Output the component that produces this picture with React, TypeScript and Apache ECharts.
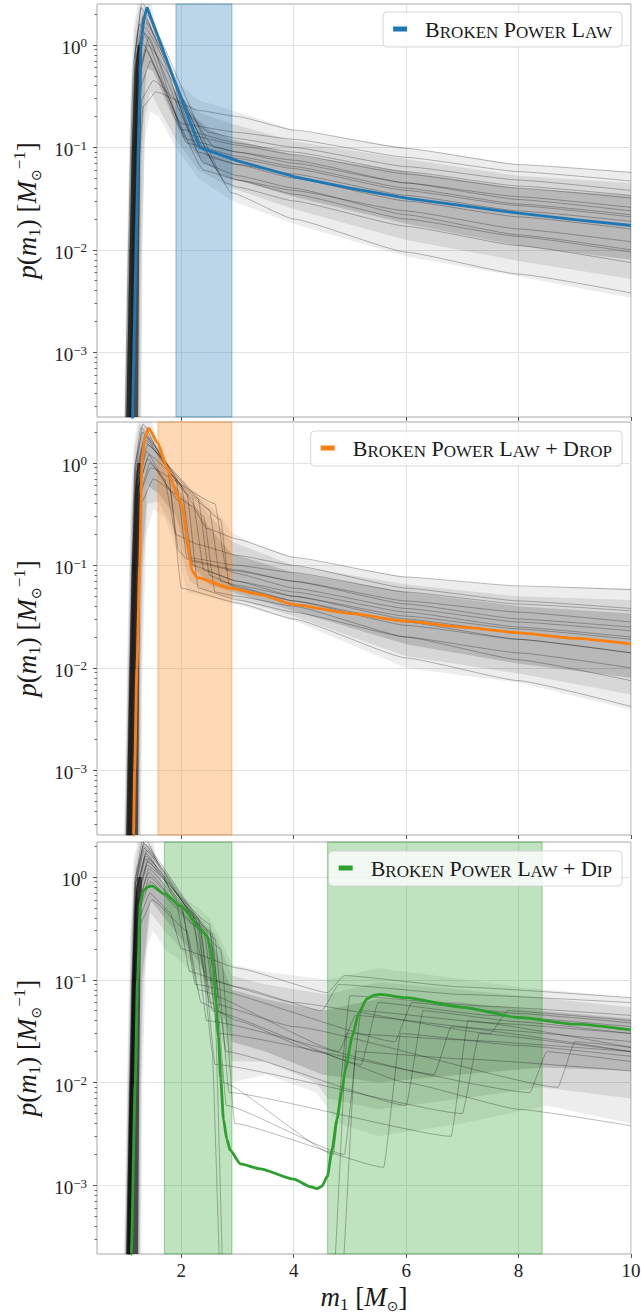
import React, { useEffect, useRef } from 'react';
import * as echarts from 'echarts';

const FONT = "'Liberation Serif', 'DejaVu Serif', serif";
const BLUE = '#1f77b4';
const ORANGE = '#ff7f0e';
const GREEN = '#2ca02c';

// ---------- axes / ticks ----------
const xTickValues = [2, 4, 6, 8, 10];
const yTickValues = [0.001, 0.01, 0.1, 1];
const xRange = [0.5, 10];
const yRangeTop = [0.000234, 2.51];
const yRangeMid = [0.000234, 2.51];
const yRangeBot = [0.000215, 2.19];

// ---------- shaded intervals ----------
const bplBands = [[1.905, 2.9]];
const dropBands = [[1.585, 2.9]];
const dipBands = [[1.7, 2.9], [4.603, 8.418]];

// ---------- median curves ----------
const bplMain = [[1.10, 1e-5], [1.133, 2.35e-4], [1.194, 0.01], [1.235, 0.1], [1.283, 1.0], [1.33, 1.75], [1.39, 2.33], [2.326, 0.1], [3, 0.074], [4, 0.052], [5, 0.040], [6, 0.032], [7, 0.027], [8, 0.0228], [9, 0.0197], [10, 0.0173]];
const dropMain = [[1.10, 1e-5], [1.15, 2.35e-4], [1.17, 1e-3], [1.21, 0.01], [1.26, 0.1], [1.30, 1.0], [1.35, 1.75], [1.418, 2.19], [1.58, 1.57], [1.75, 0.89], [1.86, 0.6], [1.95, 0.46], [2.0, 0.4], [2.04, 0.33], [2.09, 0.2], [2.14, 0.125], [2.19, 0.089], [2.28, 0.076], [2.87, 0.06], [3.4, 0.052], [4, 0.0415], [5, 0.034], [6, 0.0286], [7, 0.025], [8, 0.022], [9, 0.0194], [10, 0.0171]];
const dipMain = [[1.08, 1e-5], [1.11, 2.15e-4], [1.18, 0.01], [1.22, 0.1], [1.27, 0.56], [1.32, 0.73], [1.40, 0.8], [1.48, 0.82], [1.7, 0.68], [2.0, 0.52], [2.34, 0.31], [2.46, 0.267], [2.52, 0.2], [2.57, 0.127], [2.62, 0.06], [2.66, 0.028], [2.70, 0.011], [2.75, 0.0044], [2.81, 0.0028], [2.87, 0.0022], [3.05, 0.00162], [3.4, 0.00145], [4.0, 0.00115], [4.3, 0.00097], [4.41, 0.00093], [4.5, 0.00098], [4.6, 0.00123], [4.68, 0.0022], [4.77, 0.0044], [4.85, 0.008], [4.92, 0.0135], [5.04, 0.028], [5.16, 0.048], [5.30, 0.065], [5.42, 0.0705], [5.54, 0.072], [6.0, 0.067], [7, 0.054], [8, 0.043], [9, 0.037], [10, 0.0325]];

// ---------- density of the posterior draws (outline of the grey cloud) ----------
const bplCloudOuter = [[0.98, 2.34e-4], [1.03, 0.01], [1.09, 0.3], [1.15, 1.5], [1.22, 2.51], [1.47, 2.51], [1.6, 1.1], [1.9, 0.45], [2.3, 0.29], [2.9, 0.23], [4, 0.148], [6, 0.099], [8, 0.068], [10, 0.058], [10, 0.0034], [8, 0.0055], [6, 0.0086], [4, 0.018], [2.9, 0.03], [2.3, 0.05], [1.9, 0.1], [1.6, 0.2], [1.45, 0.22], [1.35, 0.12], [1.31, 0.01], [1.29, 2.34e-4]];
const bplCloudMid = [[0.99, 2.34e-4], [1.045, 0.01], [1.105, 0.3], [1.17, 1.4], [1.25, 2.4], [1.45, 2.2], [1.6, 0.9], [1.9, 0.35], [2.3, 0.22], [2.9, 0.17], [4, 0.115], [6, 0.077], [8, 0.053], [10, 0.045], [10, 0.0052], [8, 0.0078], [6, 0.0125], [4, 0.025], [2.9, 0.04], [2.3, 0.06], [1.9, 0.12], [1.6, 0.24], [1.45, 0.35], [1.36, 0.2], [1.3, 0.01], [1.28, 2.34e-4]];
const bplCloudInner = [[1.0, 2.34e-4], [1.06, 0.01], [1.12, 0.3], [1.19, 1.2], [1.32, 2.1], [1.45, 1.6], [1.7, 0.6], [2.0, 0.26], [2.5, 0.15], [2.9, 0.12], [4, 0.085], [6, 0.058], [8, 0.04], [10, 0.034], [10, 0.008], [8, 0.011], [6, 0.018], [4, 0.033], [2.9, 0.05], [2.4, 0.07], [2.0, 0.13], [1.7, 0.3], [1.5, 0.55], [1.38, 0.6], [1.3, 0.1], [1.27, 0.01], [1.25, 2.34e-4]];
const bplRiseCore = [[1.02, 2.34e-4], [1.08, 0.01], [1.12, 0.1], [1.17, 0.5], [1.22, 1.0], [1.30, 1.0], [1.27, 0.1], [1.25, 0.01], [1.23, 2.34e-4]];

const dropCloudOuter = [[0.98, 2.34e-4], [1.03, 0.01], [1.09, 0.3], [1.15, 1.5], [1.22, 2.51], [1.48, 2.51], [1.6, 1.4], [1.8, 0.9], [2.0, 0.7], [2.2, 0.55], [2.45, 0.42], [2.7, 0.3], [2.9, 0.21], [3.2, 0.17], [4, 0.12], [6, 0.077], [8, 0.062], [10, 0.06], [10, 0.0039], [8, 0.0072], [6, 0.01], [4, 0.029], [2.9, 0.043], [2.4, 0.05], [2.1, 0.055], [1.9, 0.15], [1.7, 0.3], [1.5, 0.35], [1.38, 0.2], [1.31, 0.01], [1.29, 2.34e-4]];
const dropCloudMid = [[0.99, 2.34e-4], [1.045, 0.01], [1.105, 0.3], [1.17, 1.4], [1.25, 2.4], [1.46, 2.2], [1.65, 1.1], [2.0, 0.6], [2.3, 0.42], [2.6, 0.27], [2.9, 0.17], [4, 0.1], [6, 0.065], [8, 0.05], [10, 0.046], [10, 0.0055], [8, 0.0088], [6, 0.013], [4, 0.032], [2.9, 0.048], [2.4, 0.057], [2.15, 0.07], [1.9, 0.2], [1.6, 0.42], [1.4, 0.4], [1.33, 0.1], [1.29, 0.01], [1.27, 2.34e-4]];
const dropCloudInner = [[1.0, 2.34e-4], [1.06, 0.01], [1.12, 0.3], [1.19, 1.2], [1.32, 2.1], [1.45, 1.7], [1.7, 0.9], [2.0, 0.5], [2.3, 0.33], [2.6, 0.2], [2.9, 0.13], [4, 0.085], [6, 0.055], [8, 0.04], [10, 0.034], [10, 0.008], [8, 0.011], [6, 0.017], [4, 0.036], [2.9, 0.055], [2.5, 0.065], [2.2, 0.1], [1.9, 0.3], [1.6, 0.5], [1.4, 0.6], [1.3, 0.1], [1.27, 0.01], [1.25, 2.34e-4]];
const dropRiseCore = [[1.02, 2.34e-4], [1.08, 0.01], [1.12, 0.1], [1.17, 0.5], [1.22, 1.0], [1.30, 1.0], [1.27, 0.1], [1.25, 0.01], [1.23, 2.34e-4]];

const dipCloudOuter = [[0.98, 2.15e-4], [1.03, 0.01], [1.09, 0.3], [1.15, 1.5], [1.22, 2.19], [1.5, 2.19], [1.6, 1.3], [1.8, 0.8], [2.0, 0.65], [2.3, 0.5], [2.5, 0.4], [2.7, 0.25], [2.9, 0.14], [3.5, 0.12], [4.6, 0.1], [5.5, 0.13], [6.5, 0.11], [8, 0.085], [10, 0.067], [10, 0.004], [8.5, 0.006], [7, 0.004], [5.5, 0.003], [4.8, 0.004], [4.4, 0.008], [3.5, 0.012], [2.9, 0.01], [2.6, 0.05], [2.3, 0.1], [2.0, 0.15], [1.7, 0.2], [1.5, 0.3], [1.38, 0.2], [1.31, 0.01], [1.29, 2.15e-4]];
const dipCloudMid = [[0.99, 2.15e-4], [1.045, 0.01], [1.105, 0.3], [1.17, 1.4], [1.25, 2.19], [1.48, 2.0], [1.65, 1.0], [2.0, 0.57], [2.3, 0.42], [2.6, 0.28], [2.9, 0.11], [3.5, 0.09], [4.6, 0.072], [5.5, 0.095], [7, 0.08], [8.4, 0.067], [10, 0.054], [10, 0.007], [8.4, 0.009], [7, 0.007], [5.5, 0.0055], [4.6, 0.007], [4.4, 0.01], [3.5, 0.016], [2.9, 0.016], [2.6, 0.065], [2.3, 0.12], [2.0, 0.2], [1.7, 0.3], [1.45, 0.45], [1.33, 0.1], [1.29, 0.01], [1.27, 2.15e-4]];
const dipCloudInner = [[1.0, 2.15e-4], [1.06, 0.01], [1.12, 0.3], [1.19, 1.2], [1.33, 2.0], [1.5, 1.5], [1.7, 0.8], [2.0, 0.5], [2.3, 0.35], [2.6, 0.2], [2.9, 0.08], [3.5, 0.065], [4.5, 0.05], [5.5, 0.065], [7, 0.06], [8.4, 0.05], [10, 0.042], [10, 0.013], [8.4, 0.014], [7, 0.012], [5.5, 0.01], [4.5, 0.012], [3.5, 0.02], [2.9, 0.025], [2.6, 0.08], [2.3, 0.15], [2.0, 0.25], [1.7, 0.4], [1.45, 0.6], [1.3, 0.1], [1.27, 0.01], [1.25, 2.15e-4]];
const dipRiseCore = [[1.02, 2.15e-4], [1.08, 0.01], [1.12, 0.1], [1.17, 0.5], [1.22, 1.0], [1.30, 1.0], [1.27, 0.1], [1.25, 0.01], [1.23, 2.15e-4]];

// ---------- posterior draws ----------
const bplSamples = [
  [[0.97, 1e-5], [1.06, 0.01], [1.10, 0.1], [1.15, 0.7], [1.25, 1.6], [2.1, 0.12], [3, 0.09], [4, 0.07], [6, 0.045], [8, 0.033], [10, 0.026]],
  [[1.00, 1e-5], [1.09, 0.01], [1.13, 0.1], [1.18, 0.9], [1.30, 2.6], [2.3, 0.09], [3, 0.068], [4, 0.05], [6, 0.03], [8, 0.021], [10, 0.016]],
  [[1.02, 1e-5], [1.11, 0.01], [1.15, 0.1], [1.20, 0.8], [1.32, 1.9], [2.5, 0.08], [3, 0.068], [4, 0.055], [6, 0.034], [8, 0.024], [10, 0.019]],
  [[1.04, 1e-5], [1.13, 0.01], [1.17, 0.1], [1.22, 0.6], [1.35, 1.3], [2.2, 0.13], [3, 0.105], [4, 0.085], [6, 0.055], [8, 0.04], [10, 0.032]],
  [[1.05, 1e-5], [1.14, 0.01], [1.18, 0.1], [1.23, 0.9], [1.38, 2.2], [2.4, 0.07], [3, 0.053], [4, 0.04], [6, 0.022], [8, 0.014], [10, 0.01]],
  [[1.07, 1e-5], [1.16, 0.01], [1.20, 0.1], [1.25, 0.5], [1.40, 1.0], [2.6, 0.1], [3, 0.09], [4, 0.075], [6, 0.045], [8, 0.031], [10, 0.024]],
  [[1.09, 1e-5], [1.18, 0.01], [1.22, 0.1], [1.28, 0.4], [1.45, 0.7], [2.0, 0.17], [3, 0.14], [4, 0.12], [6, 0.08], [8, 0.058], [10, 0.047]],
  [[1.11, 1e-5], [1.20, 0.01], [1.25, 0.08], [1.32, 0.25], [1.55, 0.35], [2.3, 0.23], [3, 0.2], [4, 0.148], [6, 0.098], [8, 0.068], [10, 0.057]],
  [[1.03, 1e-5], [1.12, 0.01], [1.16, 0.1], [1.21, 0.7], [1.33, 1.5], [2.8, 0.045], [3, 0.041], [4, 0.03], [6, 0.017], [8, 0.011], [10, 0.0075]],
  [[1.06, 1e-5], [1.15, 0.01], [1.19, 0.1], [1.24, 0.8], [1.36, 2.0], [2.9, 0.036], [4, 0.02], [6, 0.0095], [8, 0.0058], [10, 0.0038]],
  [[1.01, 1e-5], [1.10, 0.01], [1.14, 0.1], [1.19, 0.9], [1.28, 2.3], [2.3, 0.1], [3, 0.078], [4, 0.062], [6, 0.038], [8, 0.027], [10, 0.021]],
  [[1.08, 1e-5], [1.17, 0.01], [1.21, 0.1], [1.26, 0.6], [1.42, 1.2], [2.1, 0.11], [3, 0.082], [4, 0.065], [6, 0.04], [8, 0.028], [10, 0.022]],
  [[0.99, 1e-5], [1.08, 0.01], [1.12, 0.1], [1.17, 0.6], [1.27, 1.1], [2.4, 0.06], [3, 0.048], [4, 0.038], [6, 0.024], [8, 0.016], [10, 0.012]],
  [[1.10, 1e-5], [1.19, 0.01], [1.24, 0.1], [1.30, 0.3], [1.5, 0.45], [2.5, 0.14], [3, 0.122], [4, 0.1], [6, 0.065], [8, 0.048], [10, 0.038]],
  [[1.04, 1e-5], [1.13, 0.01], [1.17, 0.1], [1.22, 0.8], [1.34, 1.7], [2.7, 0.055], [3, 0.048], [4, 0.035], [6, 0.02], [8, 0.0135], [10, 0.0095]],
  [[1.06, 1e-5], [1.15, 0.01], [1.19, 0.1], [1.24, 0.5], [1.37, 0.9], [2.0, 0.15], [3, 0.11], [4, 0.09], [6, 0.058], [8, 0.042], [10, 0.034]],
];

const dropSamples = [
  [[1.00, 1e-5], [1.09, 0.01], [1.13, 0.1], [1.18, 1.0], [1.32, 2.4], [1.75, 0.9], [1.95, 0.14], [2.1, 0.115], [3, 0.09], [4, 0.07], [6, 0.045], [8, 0.035], [10, 0.028]],
  [[1.02, 1e-5], [1.11, 0.01], [1.15, 0.1], [1.20, 0.9], [1.36, 1.9], [2.0, 0.6], [2.2, 0.1], [3, 0.07], [4, 0.05], [6, 0.03], [8, 0.022], [10, 0.017]],
  [[1.04, 1e-5], [1.13, 0.01], [1.17, 0.1], [1.22, 0.7], [1.40, 1.5], [2.3, 0.45], [2.5, 0.08], [3, 0.062], [4, 0.045], [6, 0.026], [8, 0.019], [10, 0.014]],
  [[1.06, 1e-5], [1.15, 0.01], [1.19, 0.1], [1.24, 0.6], [1.42, 1.2], [2.5, 0.35], [2.7, 0.07], [3, 0.064], [4, 0.05], [6, 0.032], [8, 0.024], [10, 0.019]],
  [[1.01, 1e-5], [1.10, 0.01], [1.14, 0.1], [1.19, 0.9], [1.30, 2.0], [1.9, 0.7], [2.1, 0.12], [3, 0.1], [4, 0.085], [6, 0.055], [8, 0.042], [10, 0.036]],
  [[1.07, 1e-5], [1.16, 0.01], [1.20, 0.1], [1.26, 0.5], [1.45, 0.9], [2.6, 0.4], [2.8, 0.09], [3, 0.083], [4, 0.06], [6, 0.038], [8, 0.028], [10, 0.023]],
  [[1.03, 1e-5], [1.12, 0.01], [1.16, 0.1], [1.21, 0.8], [1.35, 1.7], [2.1, 0.5], [2.3, 0.06], [3, 0.046], [4, 0.035], [6, 0.02], [8, 0.014], [10, 0.01]],
  [[1.09, 1e-5], [1.18, 0.01], [1.22, 0.1], [1.28, 0.4], [1.5, 0.7], [2.2, 0.38], [2.45, 0.23], [3, 0.18], [4, 0.12], [6, 0.077], [8, 0.063], [10, 0.058]],
  [[1.05, 1e-5], [1.14, 0.01], [1.18, 0.1], [1.23, 0.6], [1.38, 1.3], [1.8, 0.55], [2.0, 0.06], [3, 0.043], [4, 0.03], [6, 0.0125], [8, 0.0075], [10, 0.0042]],
  [[0.99, 1e-5], [1.08, 0.01], [1.12, 0.1], [1.17, 0.9], [1.28, 2.2], [2.4, 0.3], [2.6, 0.055], [3, 0.05], [4, 0.04], [6, 0.02], [8, 0.012], [10, 0.0075]],
  [[1.08, 1e-5], [1.17, 0.01], [1.21, 0.1], [1.26, 0.5], [1.44, 1.0], [2.0, 0.4], [2.15, 0.11], [3, 0.088], [4, 0.07], [6, 0.042], [8, 0.03], [10, 0.025]],
  [[1.02, 1e-5], [1.11, 0.01], [1.15, 0.1], [1.20, 0.8], [1.33, 1.6], [2.7, 0.28], [2.85, 0.065], [3, 0.06], [4, 0.045], [6, 0.028], [8, 0.019], [10, 0.014]],
  [[1.06, 1e-5], [1.15, 0.01], [1.19, 0.1], [1.24, 0.6], [1.4, 1.1], [1.7, 0.7], [1.9, 0.2], [2.3, 0.16], [3, 0.125], [4, 0.1], [6, 0.06], [8, 0.045], [10, 0.038]],
  [[1.04, 1e-5], [1.13, 0.01], [1.17, 0.1], [1.22, 0.8], [1.37, 1.8], [2.2, 0.45], [2.4, 0.09], [3, 0.07], [4, 0.055], [6, 0.035], [8, 0.025], [10, 0.02]],
];

const dipSamples = [
  [[1.00, 1e-5], [1.09, 0.01], [1.13, 0.1], [1.18, 1.0], [1.35, 2.4], [1.9, 0.6], [2.15, 0.12], [3, 0.085], [4.5, 0.05], [4.8, 0.09], [7, 0.072], [10, 0.06]],
  [[1.02, 1e-5], [1.11, 0.01], [1.15, 0.1], [1.20, 0.8], [1.38, 1.8], [2.3, 0.4], [2.55, 0.05], [5.2, 0.015], [5.5, 0.06], [7.5, 0.045], [10, 0.035]],
  [[1.04, 1e-5], [1.13, 0.01], [1.17, 0.1], [1.22, 0.7], [1.40, 1.4], [2.5, 0.3], [2.8, 0.02], [6.0, 0.006], [6.3, 0.05], [8, 0.039], [10, 0.03]],
  [[1.05, 1e-5], [1.14, 0.01], [1.18, 0.1], [1.24, 0.6], [1.42, 1.1], [2.0, 0.5], [2.3, 0.08], [4.8, 0.02], [5.1, 0.045], [7.5, 0.033], [10, 0.025]],
  [[1.01, 1e-5], [1.10, 0.01], [1.14, 0.1], [1.19, 0.9], [1.32, 2.0], [2.6, 0.25], [2.85, 0.008], [6.8, 0.003], [7.1, 0.04], [10, 0.022]],
  [[1.07, 1e-5], [1.16, 0.01], [1.20, 0.1], [1.26, 0.5], [1.45, 0.9], [2.2, 0.35], [2.45, 0.1], [4, 0.06], [7.5, 0.03], [7.8, 0.05], [10, 0.04]],
  [[1.03, 1e-5], [1.12, 0.01], [1.16, 0.1], [1.21, 0.8], [1.36, 1.6], [2.7, 0.2], [2.95, 0.004], [5.6, 0.0015], [5.9, 0.03], [8, 0.023], [10, 0.018]],
  [[1.06, 1e-5], [1.15, 0.01], [1.19, 0.1], [1.25, 0.4], [1.44, 0.7], [1.8, 0.45], [2.0, 0.2], [3, 0.13], [4.6, 0.075], [4.9, 0.11], [7, 0.085], [10, 0.067]],
  [[0.99, 1e-5], [1.08, 0.01], [1.12, 0.1], [1.17, 0.9], [1.30, 2.2], [2.4, 0.3], [2.65, 0.03], [8.2, 0.008], [8.5, 0.02], [10, 0.016]],
  [[1.08, 1e-5], [1.17, 0.01], [1.21, 0.1], [1.27, 0.35], [1.48, 0.6], [2.1, 0.3], [2.35, 0.06], [3, 0.04], [4.4, 0.02], [6, 0.01], [8, 0.0055], [10, 0.0038]],
  [[1.04, 1e-5], [1.13, 0.01], [1.17, 0.1], [1.22, 0.6], [1.39, 1.3], [2.5, 0.35], [2.75, 0.01], [4.7, 0.002], [5.0, 0.07], [7.5, 0.055], [10, 0.045]],
  [[1.02, 1e-5], [1.11, 0.01], [1.15, 0.1], [1.20, 0.9], [1.34, 1.9], [2.2, 0.45], [2.45, 0.04], [6.5, 0.012], [6.8, 0.035], [10, 0.02]],
  [[1.05, 1e-5], [1.14, 0.01], [1.18, 0.1], [1.23, 0.7], [1.41, 1.5], [2.45, 0.3], [2.6, 0.05], [2.75, 1e-4], [4.7, 1e-4], [4.95, 0.03], [7, 0.026], [10, 0.02]],
  [[1.03, 1e-5], [1.12, 0.01], [1.16, 0.1], [1.21, 0.8], [1.37, 1.7], [2.0, 0.55], [2.25, 0.09], [5.8, 0.025], [6.1, 0.06], [8, 0.047], [10, 0.038]],
  [[1.06, 1e-5], [1.15, 0.01], [1.19, 0.1], [1.25, 0.5], [1.43, 1.0], [2.35, 0.3], [2.6, 0.015], [7.0, 0.005], [7.3, 0.03], [10, 0.02]],
  [[1.01, 1e-5], [1.10, 0.01], [1.14, 0.1], [1.19, 0.9], [1.33, 2.1], [2.55, 0.28], [2.8, 0.006], [4.9, 0.002], [5.2, 0.05], [7.5, 0.038], [10, 0.03]],
  [[1.02, 1e-5], [1.11, 0.01], [1.15, 0.1], [1.20, 0.7], [1.36, 1.5], [2.25, 0.4], [2.5, 0.06], [4, 0.035], [8.7, 0.009], [9.0, 0.025], [10, 0.022]],
  [[1.07, 1e-5], [1.16, 0.01], [1.20, 0.1], [1.25, 0.6], [1.42, 1.2], [2.3, 0.35], [2.55, 0.02], [2.7, 1e-4], [4.85, 1e-4], [5.1, 0.02], [7, 0.017], [10, 0.013]],
];

// ---------- helpers ----------
function smallCaps(s: string) {
  return s
    .split(' ')
    .map((w) => (w === '+' ? '+' : `{b|${w[0].toUpperCase()}}{s|${w.slice(1).toUpperCase()}}`))
    .join(' ');
}

function minorTicksFor(range: number[]) {
  const out: number[] = [];
  for (let e = -5; e <= 1; e++) {
    for (let m = 2; m <= 9; m++) {
      const v = m * Math.pow(10, e);
      if (v > range[0] * 1.0001 && v < range[1] * 0.9999) out.push(v);
    }
  }
  return out;
}

const INK = '#1a1a1a';
const mathRich = {
  i: { fontFamily: FONT, fontStyle: 'italic', fontSize: 27, lineHeight: 32, color: INK },
  r: { fontFamily: FONT, fontSize: 27, lineHeight: 32, color: INK },
  sub: { fontFamily: FONT, fontSize: 17, lineHeight: 18, verticalAlign: 'bottom', color: INK },
  sun: { fontFamily: "'DejaVu Sans', sans-serif", fontSize: 14, lineHeight: 16, verticalAlign: 'bottom', color: INK },
  sup: { fontFamily: FONT, fontSize: 17, lineHeight: 18, verticalAlign: 'top', color: INK },
};
const yName = '{i|p}{r|(}{i|m}{sub|1}{r|)} {r|[}{i|M}{sun|⊙}{sup|−1}{r|]}';
const xName = '{i|m}{sub|1} {r|[}{i|M}{sun|⊙}{r|]}';

function polygonSeries(points: number[][], i: number, fill: string) {
  return {
    type: 'custom',
    xAxisIndex: i,
    yAxisIndex: 2 * i,
    data: points,
    silent: true,
    z: 2,
    renderItem: (params: any, api: any) => {
      if (params.dataIndex !== 0) return null;
      return {
        type: 'polygon',
        shape: { points: points.map((p) => api.coord(p)) },
        style: { fill },
      };
    },
  };
}

function buildOption() {
  const gridBoxes = [
    { left: 97, top: 4, width: 534, height: 413 },
    { left: 97, top: 422, width: 534, height: 413 },
    { left: 97, top: 842, width: 534, height: 412 },
  ];
  const panels = [
    { samples: bplSamples, outer: bplCloudOuter, mid: bplCloudMid, inner: bplCloudInner, core: bplRiseCore, main: bplMain, bands: bplBands, color: BLUE, band: 'rgba(31,119,180,0.3)', edge: 'rgba(31,119,180,0.45)', name: 'Broken Power Law', yr: yRangeTop },
    { samples: dropSamples, outer: dropCloudOuter, mid: dropCloudMid, inner: dropCloudInner, core: dropRiseCore, main: dropMain, bands: dropBands, color: ORANGE, band: 'rgba(255,127,14,0.3)', edge: 'rgba(255,127,14,0.45)', name: 'Broken Power Law + Drop', yr: yRangeMid },
    { samples: dipSamples, outer: dipCloudOuter, mid: dipCloudMid, inner: dipCloudInner, core: dipRiseCore, main: dipMain, bands: dipBands, color: GREEN, band: 'rgba(44,160,44,0.3)', edge: 'rgba(44,160,44,0.45)', name: 'Broken Power Law + Dip', yr: yRangeBot },
  ];

  const grid = gridBoxes.map((g) => ({ ...g, show: true, borderColor: '#a8a8a8', borderWidth: 1, backgroundColor: 'transparent', containLabel: false, outerBoundsMode: 'none' }));

  const xAxis = panels.map((_, i) => ({
    type: 'value',
    gridIndex: i,
    min: xRange[0],
    max: xRange[1],
    splitNumber: 5,
    axisLine: { show: false },
    axisTick: { show: true, length: 4, customValues: xTickValues, lineStyle: { color: '#555' } },
    axisLabel: {
      show: i === 2,
      customValues: xTickValues,
      formatter: (v: number) => (v >= 1.5 ? String(Math.round(v)) : ''),
      fontFamily: FONT,
      fontSize: 19,
      color: '#222',
      margin: 7,
    },
    splitLine: { show: true, lineStyle: { color: '#e2e2e2', width: 1 } },
    name: i === 2 ? xName : '',
    nameLocation: 'middle',
    nameGap: 27,
    nameTextStyle: { rich: mathRich, fontFamily: FONT, fontSize: 27, lineHeight: 32 },
  }));

  const yAxis: any[] = [];
  panels.forEach((p, i) => {
    yAxis.push({
      type: 'log',
      logBase: 10,
      gridIndex: i,
      position: 'left',
      min: p.yr[0],
      max: p.yr[1],
      axisLine: { show: false },
      axisTick: { show: true, length: 4, customValues: yTickValues, lineStyle: { color: '#555' } },
      axisLabel: {
        customValues: yTickValues,
        formatter: (v: number) => {
          const lg = Math.log10(v);
          const e = Math.round(lg);
          if (Math.abs(lg - e) > 0.01) return '';
          return `10{sup|${e < 0 ? '−' + -e : e}}`;
        },
        fontFamily: FONT,
        fontSize: 19,
        lineHeight: 22,
        padding: [5, 0, 0, 0],
        color: '#222',
        margin: 10,
        rich: { sup: { fontFamily: FONT, fontSize: 13, lineHeight: 10, verticalAlign: 'top', color: '#222' } },
      },
      splitLine: { show: true, lineStyle: { color: '#e2e2e2', width: 1 } },
      name: yName,
      nameLocation: 'middle',
      nameRotate: 90,
      nameGap: 50,
      nameTextStyle: { rich: mathRich, fontFamily: FONT, fontSize: 27, lineHeight: 32 },
    });
    yAxis.push({
      type: 'log',
      logBase: 10,
      gridIndex: i,
      position: 'left',
      min: p.yr[0],
      max: p.yr[1],
      axisLine: { show: false },
      axisTick: { show: true, length: 2.5, customValues: minorTicksFor(p.yr), lineStyle: { color: '#666' } },
      axisLabel: { show: false },
      splitLine: { show: false },
    });
  });

  const series: any[] = [];
  panels.forEach((p, i) => {
    series.push(polygonSeries(p.outer, i, 'rgba(0,0,0,0.07)'));
    series.push(polygonSeries(p.mid, i, 'rgba(0,0,0,0.09)'));
    series.push(polygonSeries(p.inner, i, 'rgba(0,0,0,0.14)'));
    series.push(polygonSeries(p.core, i, 'rgba(0,0,0,0.6)'));
    p.samples.forEach((s, k) => {
      series.push({
        type: 'line',
        name: `draw-${i}-${k}`,
        xAxisIndex: i,
        yAxisIndex: 2 * i,
        data: s,
        showSymbol: false,
        symbol: 'none',
        smooth: 0.12,
        smoothMonotone: 'x',
        silent: true,
        z: 2,
        lineStyle: { color: 'rgba(0,0,0,0.27)', width: 1 },
      });
    });
    series.push({
      type: 'custom',
      name: `band-${i}`,
      xAxisIndex: i,
      yAxisIndex: 2 * i,
      data: p.bands,
      silent: true,
      z: 2,
      renderItem: (params: any, api: any) => {
        const a = api.coord([api.value(0), 1]);
        const b = api.coord([api.value(1), 1]);
        const cs = params.coordSys;
        return {
          type: 'rect',
          shape: { x: a[0], y: cs.y, width: b[0] - a[0], height: cs.height },
          style: { fill: p.band, stroke: p.edge, lineWidth: 1 },
        };
      },
    });
    series.push({
      type: 'line',
      name: p.name,
      xAxisIndex: i,
      yAxisIndex: 2 * i,
      data: p.main,
      showSymbol: false,
      symbol: 'none',
      smooth: i === 0 ? false : 0.2,
      smoothMonotone: 'x',
      z: 3,
      color: p.color,
      lineStyle: { color: p.color, width: 2.8 },
      itemStyle: { color: p.color },
    });
  });

  const legendTops = [12, 431, 851];
  const legend = panels.map((p, i) => ({
    data: [{ name: p.name, icon: 'rect', itemStyle: { color: p.color } }],
    right: 19,
    top: legendTops[i],
    orient: 'horizontal',
    selectedMode: false,
    itemWidth: 14,
    itemHeight: 5,
    padding: [6, 10, 6, 10],
    backgroundColor: 'rgba(255,255,255,0.8)',
    borderColor: 'rgba(210,210,210,0.9)',
    borderWidth: 1,
    borderRadius: 4,
    formatter: (n: string) => smallCaps(n),
    textStyle: {
      fontFamily: FONT,
      fontSize: 22,
      color: INK,
      padding: [0, 0, 0, 13],
      rich: {
        b: { fontFamily: FONT, fontSize: 22, lineHeight: 24, color: INK },
        s: { fontFamily: FONT, fontSize: 17, lineHeight: 21, verticalAlign: 'bottom', color: INK },
      },
    },
  }));

  return {
    animation: false,
    backgroundColor: '#ffffff',
    grid,
    xAxis,
    yAxis,
    legend,
    series,
  };
}

export default function App() {
  const ref = useRef<HTMLDivElement>(null);
  useEffect(() => {
    if (!ref.current) return;
    const chart = echarts.init(ref.current, null, { renderer: 'svg' });
    chart.setOption(buildOption() as any);
    return () => {
      chart.dispose();
    };
  }, []);
  return (
    <div
      ref={ref}
      style={{ position: 'absolute', left: 0, top: 0, width: 641, height: 1315, background: '#fff' }}
    />
  );
}
